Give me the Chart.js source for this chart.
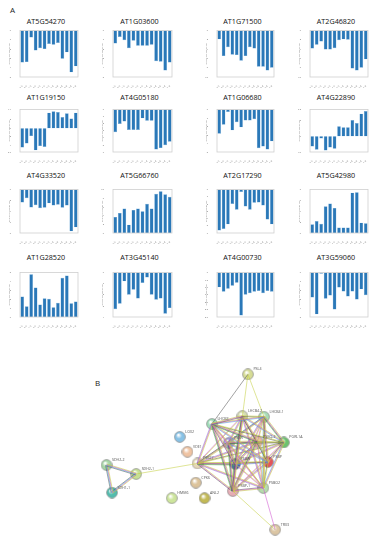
<!DOCTYPE html>
<html>
<head>
<meta charset="utf-8">
<script src="https://cdn.jsdelivr.net/npm/chart.js@4.4.0/dist/chart.umd.min.js"></script>
<style>
  body { margin: 0; background: #fff; }
  #fig { position: relative; width: 385px; height: 550px; overflow: hidden; font-family: 'Open Sans', 'Liberation Sans', sans-serif; }
  canvas { position: absolute; }
  .ttl { position: absolute; font-size: 7.2px; color: #111; text-align: center; width: 86px; }
  .lab { position: absolute; font-size: 8px; color: #222; }
</style>
</head>
<body>
<div id="fig">
  <div class="lab" style="left:10px;top:4px">A</div>
  <div class="lab" style="left:95px;top:377px">B</div>
</div>
<script>
// sample / time point labels (x axis of each panel)
var samples = ['0 h', '0.5 h', '1 h', '3 h', '6 h', '12 h', '24 h', '2 d', '3 d', '4 d', '5 d', '6 d', '7 d'];

// gene ids, in reading order
var genes = ['AT5G54270', 'AT1G03600', 'AT1G71500', 'AT2G46820',
             'AT1G19150', 'AT4G05180', 'AT1G06680', 'AT4G22890',
             'AT4G33520', 'AT5G66760', 'AT2G17290', 'AT5G42980',
             'AT1G28520', 'AT3G45140', 'AT4G00730', 'AT3G59060'];

// expression values per gene (log2 relative expression)
var AT5G54270 = [-3.45, -3.4, -0.75, -2.15, -1.9, -2.0, -1.45, -1.55, -1.35, -3.05, -2.35, -4.5, -3.85];
var AT1G03600 = [-1.4, -0.7, -1.05, -1.9, -1.1, -1.65, -1.65, -1.65, -1.55, -3.3, -3.35, -4.3, -3.45];
var AT1G71500 = [-1.9, -5.5, -3.6, -5.2, -5.3, -6.5, -5.5, -3.6, -3.9, -7.8, -7.8, -8.6, -8.0];
var AT2G46820 = [-3.9, -3.1, -2.4, -4.1, -4.1, -3.8, -2.1, -1.9, -2.0, -8.2, -8.6, -8.0, -6.2];
var AT1G19150 = [-4.55, -3.6, -1.85, -5.2, -4.2, -4.4, 3.65, 3.95, 3.8, 2.6, 3.5, 2.3, 3.65];
var AT4G05180 = [-3.2, -2.05, -1.7, -2.9, -2.9, -2.9, -1.25, -1.6, -1.6, -5.65, -5.45, -5.05, -4.55];
var AT1G06680 = [-2.85, -1.8, -0.3, -2.45, -1.5, -2.1, -1.3, -1.3, -1.15, -4.55, -4.35, -4.7, -3.75];
var AT4G22890 = [-3.2, -4.2, -0.7, -4.4, -3.5, -3.9, 3.1, 2.8, 2.8, 5.0, 4.1, 7.0, 7.8];
var AT4G33520 = [-2.4, -1.6, -3.3, -2.9, -3.45, -3.35, -2.55, -2.95, -2.8, -3.35, -2.95, -7.7, -6.95];
var AT5G66760 = [3.7, 4.6, 5.6, 1.9, 5.3, 5.6, 5.0, 6.7, 5.6, 9.0, 9.6, 8.9, 8.3];
var AT2G17290 = [-5.65, -5.45, -4.8, -2.0, -2.8, -0.35, -2.35, -2.8, -1.85, -1.8, -2.2, -4.15, -4.8];
var AT5G42980 = [1.6, 2.2, 1.7, 4.9, 5.4, 4.6, 1.0, 1.0, 1.0, 7.4, 7.5, 1.9, 1.8];
var AT1G28520 = [2.3, 1.2, 4.8, 3.3, 1.4, 2.1, 2.05, 1.1, 1.6, 4.4, 4.65, 1.55, 1.75];
var AT3G45140 = [-3.3, -2.8, -0.8, -2.0, -1.55, -2.35, -0.95, -0.45, -2.0, -2.45, -2.35, -3.7, -3.2];
var AT4G00730 = [-1.0, -1.3, -1.1, -0.9, -0.7, -2.9, -1.5, -1.4, -1.3, -1.25, -1.4, -1.25, -1.3];
var AT3G59060 = [-2.8, -4.7, -0.15, -2.95, -2.6, -4.15, -1.7, -2.15, -2.7, -2.15, -3.05, -1.9, -2.55];

var values = [AT5G54270, AT1G03600, AT1G71500, AT2G46820, AT1G19150, AT4G05180, AT1G06680, AT4G22890,
              AT4G33520, AT5G66760, AT2G17290, AT5G42980, AT1G28520, AT3G45140, AT4G00730, AT3G59060];

// y axis limits per panel
var yMin = [-5, -5, -10, -10, -5.6, -6, -5, -4.9, -8, 0, -6, 0, 0, -4, -3, -5];
var yMax = [0, 0, 0, 0, 4.4, 0, 0, 8.3, 0, 10, 0, 8, 5, 0, 0, 0];

// STRING network (panel B): node names, positions, colours
var nodeNames = ['PSL4', 'LHCB3', 'LHCB4.2', 'LHCB4.1', 'LOX2', 'VDE1', 'PSBR', 'PSBQ-2', 'PGRL1A', 'PSB27',
                 'PSBW', 'PSBP', 'CPK6', 'PSBO2', 'PSBP-1', 'HMM6', 'ANL2', 'TRX3', 'SDH2-2', 'SDH2-1', 'SDH1-1'];
var nodeX = [250, 212.7, 244.3, 266.7, 179.3, 187.3, 230, 260, 287.3, 197.7, 236.7, 270.7, 196, 266, 234.3, 171, 205, 278.3, 103.3, 134, 109];
var nodeY = [368.3, 421.7, 413.3, 414, 435.7, 451.7, 442.3, 440.7, 441.7, 464.3, 465, 462.7, 485, 490.7, 494, 501.7, 501.7, 535.7, 466, 475.7, 495.7];
var nodeColors = ['#d6dc96', '#9fdcb8', '#d6ddb0', '#a8dcb4', '#88c2e6', '#efc3a2', '#a497dc', '#e9b6a4', '#6cc26e', '#e6d7b6',
                  '#4463ae', '#e5545a', '#dcc39b', '#b5dcab', '#e6acb4', '#cde59c', '#c2b955', '#dcc6a4', '#a5d6a5', '#c6df95', '#52bcae'];

var cluster = ['LHCB3', 'LHCB4.2', 'LHCB4.1', 'PSBR', 'PSBQ-2', 'PGRL1A', 'PSB27', 'PSBW', 'PSBP', 'PSBO2', 'PSBP-1'];
var extraEdges = [['PSL4', 'LHCB3', 'k'], ['PSL4', 'LHCB4.2', 'y'], ['PSL4', 'LHCB4.1', 'y'],
                  ['SDH2-1', 'PSB27', 'y'], ['PSBP-1', 'TRX3', 'y'], ['PSBO2', 'TRX3', 'm'],
                  ['SDH2-2', 'SDH2-1', 'ymck'], ['SDH2-2', 'SDH1-1', 'ymck'], ['SDH2-1', 'SDH1-1', 'ymck']];
var edgePalette = { y: '#c4d040', m: '#d050d0', k: '#555555', c: '#40b4d4', g: '#44b044', p: '#8a7ccc' };

var fig = document.getElementById('fig');

// plot-area boxes of the 4x4 grid
var colBox = [[20, 78], [113, 172], [217, 274], [310, 368]];
var rowBox = [[29, 77], [108, 152], [188, 233], [271, 317]];
var titleY = [16, 92, 170, 252];

var framePlugin = {
  id: 'frame',
  afterDraw: function (chart) {
    var a = chart.chartArea, c = chart.ctx;
    c.save();
    c.strokeStyle = '#cfcfcf';
    c.lineWidth = 0.8;
    c.strokeRect(a.left, a.top, a.right - a.left, a.bottom - a.top);
    c.restore();
  }
};

genes.forEach(function (g, i) {
  var r = Math.floor(i / 4), col = i % 4;
  var x0 = colBox[col][0], x1 = colBox[col][1];
  var y0 = rowBox[r][0], y1 = rowBox[r][1];
  var padL = 12, padB = 11;

  var t = document.createElement('div');
  t.className = 'ttl';
  t.textContent = g;
  t.style.left = ((x0 + x1) / 2 - 46) + 'px';
  t.style.top = titleY[r] + 'px';
  fig.appendChild(t);

  var cv = document.createElement('canvas');
  cv.width = x1 - x0 + padL + 2;
  cv.height = y1 - y0 + padB + 1;
  cv.style.left = (x0 - padL) + 'px';
  cv.style.top = (y0 - 1) + 'px';
  fig.appendChild(cv);

  new Chart(cv.getContext('2d'), {
    type: 'bar',
    data: {
      labels: samples,
      datasets: [{
        data: values[i],
        backgroundColor: '#2a78b8',
        borderColor: '#6aa6d6',
        borderWidth: 0.4,
        barPercentage: 0.82,
        categoryPercentage: 1
      }]
    },
    options: {
      responsive: false,
      animation: false,
      events: [],
      layout: { padding: { top: 1, right: 2, left: 0, bottom: 0 } },
      plugins: { legend: { display: false }, tooltip: { enabled: false } },
      scales: {
        x: {
          grid: { display: false },
          border: { display: false },
          ticks: { autoSkip: false, minRotation: 50, maxRotation: 50, padding: 0, font: { size: 2.4 }, color: '#777' },
          afterFit: function (s) { s.height = padB; }
        },
        y: {
          min: yMin[i],
          max: yMax[i],
          grid: { display: false },
          border: { display: false },
          ticks: { maxTicksLimit: 7, padding: 1, font: { size: 2.4 }, color: '#777' },
          title: { display: true, text: 'Relative expression level', font: { size: 2 }, color: '#777', padding: 0 },
          afterFit: function (s) { s.width = padL; }
        }
      }
    },
    plugins: [framePlugin]
  });
});

// ----- panel B network -----
function ball(color) {
  var c = document.createElement('canvas');
  c.width = 12; c.height = 12;
  var x = c.getContext('2d');
  var gr = x.createRadialGradient(4.5, 4, 0.5, 6, 6, 6);
  gr.addColorStop(0, '#ffffff');
  gr.addColorStop(0.45, color);
  gr.addColorStop(1, color);
  x.fillStyle = gr;
  x.beginPath(); x.arc(6, 6, 5.4, 0, Math.PI * 2); x.fill();
  x.strokeStyle = '#8a8a8a'; x.lineWidth = 0.7; x.stroke();
  return c;
}

function idx(n) { return nodeNames.indexOf(n); }

var edges = [];
var codes = ['ymk', 'ymc', 'ym', 'ymkg', 'yk', 'ymp'];
var k = 0;
for (var a = 0; a < cluster.length; a++) {
  for (var b = a + 1; b < cluster.length; b++) {
    edges.push([cluster[a], cluster[b], codes[k % codes.length]]);
    k++;
  }
}
edges = edges.concat(extraEdges);

var netSets = [];
edges.forEach(function (e) {
  var p = idx(e[0]), q = idx(e[1]);
  var dx = nodeX[q] - nodeX[p], dy = nodeY[q] - nodeY[p];
  var len = Math.sqrt(dx * dx + dy * dy);
  var nx = -dy / len, ny = dx / len;
  var n = e[2].length;
  e[2].split('').forEach(function (ch, j) {
    var off = (j - (n - 1) / 2) * 0.7;
    netSets.push({
      type: 'line',
      data: [{ x: nodeX[p] + nx * off, y: nodeY[p] + ny * off }, { x: nodeX[q] + nx * off, y: nodeY[q] + ny * off }],
      borderColor: edgePalette[ch],
      borderWidth: 0.55,
      pointRadius: 0
    });
  });
});

netSets.push({
  type: 'scatter',
  data: nodeNames.map(function (n, i) { return { x: nodeX[i], y: nodeY[i] }; }),
  pointStyle: nodeColors.map(ball),
  pointRadius: 6
});

var labelPlugin = {
  id: 'nodeLabels',
  afterDatasetsDraw: function (chart) {
    var meta = chart.getDatasetMeta(chart.data.datasets.length - 1);
    var c = chart.ctx;
    c.save();
    c.font = '3.6px "Open Sans", sans-serif';
    c.fillStyle = '#555';
    meta.data.forEach(function (pt, i) {
      c.fillText(nodeNames[i], pt.x + 5.5, pt.y - 4);
    });
    c.restore();
  }
};

var net = document.createElement('canvas');
net.width = 385; net.height = 195;
net.style.left = '0px'; net.style.top = '355px';
fig.appendChild(net);

new Chart(net.getContext('2d'), {
  type: 'scatter',
  data: { datasets: netSets },
  options: {
    responsive: false,
    animation: false,
    events: [],
    layout: { padding: 0 },
    plugins: { legend: { display: false }, tooltip: { enabled: false } },
    scales: {
      x: { type: 'linear', display: false, min: 0, max: 385 },
      y: { type: 'linear', display: false, min: 355, max: 550, reverse: true }
    }
  },
  plugins: [labelPlugin]
});
</script>
</body>
</html>
